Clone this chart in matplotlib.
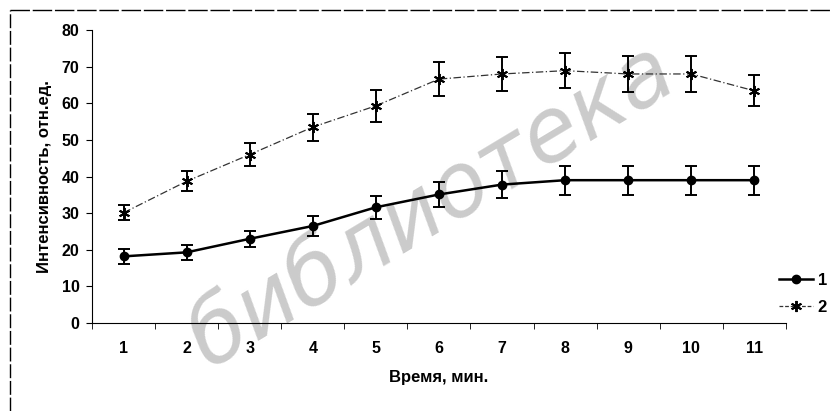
import matplotlib.pyplot as plt
from matplotlib.lines import Line2D
from matplotlib.ticker import MultipleLocator

# данные
minutes = [1, 2, 3, 4, 5, 6, 7, 8, 9, 10, 11]
series1 = [18.2, 19.3, 23.0, 26.5, 31.6, 35.1, 37.8, 39.0, 39.0, 39.0, 39.0]
err1 = [2.0, 2.0, 2.2, 2.7, 3.2, 3.5, 3.7, 4.0, 4.0, 4.0, 4.0]
series2 = [30.1, 38.7, 46.0, 53.5, 59.3, 66.6, 68.0, 68.9, 68.0, 68.0, 63.4]
err2 = [2.0, 2.7, 3.2, 3.7, 4.3, 4.7, 4.7, 4.8, 4.9, 5.0, 4.2]
labels = ['1', '2']
y_ticks = [0, 10, 20, 30, 40, 50, 60, 70, 80]

plt.rcParams['font.family'] = ['Liberation Sans', 'DejaVu Sans']
plt.rcParams['font.weight'] = 'bold'

fig = plt.figure(figsize=(8.31, 4.11), dpi=100)
ax = fig.add_axes([0.1107, 0.214, 0.835, 0.713])
ax.patch.set_alpha(0)

# водяной знак
fig.text(0.52, 0.50, 'библиотека', fontsize=64, color='#cbcbcb', style='italic',
         fontweight='normal', rotation=31, ha='center', va='center', zorder=-1,
         family=['DejaVu Sans'])

ax.errorbar(minutes, series1, yerr=err1, color='black', lw=1.8, marker='o', ms=6,
            ecolor='black', elinewidth=1.4, capsize=4, capthick=1.4, zorder=3)
ax.errorbar(minutes, series2, yerr=err2, color='#333333', lw=0.9, ls=(0, (6, 2, 1, 2)),
            marker=(6, 2, 0), ms=8, mew=1.4, mec='black',
            ecolor='black', elinewidth=1.4, capsize=4, capthick=1.4, zorder=3)

ax.set_xlim(0.5, 11.5)
ax.set_ylim(0, 80)
ax.set_xticks(minutes)
ax.set_yticks(y_ticks)
ax.xaxis.set_minor_locator(MultipleLocator(1, offset=0.5))
ax.tick_params(axis='x', which='major', length=0, pad=13, labelsize=11.5)
ax.tick_params(axis='x', which='minor', length=4, direction='out')
ax.tick_params(axis='y', length=4, direction='out', labelsize=11.5, pad=5)
ax.spines['right'].set_visible(False)
ax.spines['top'].set_visible(False)
ax.spines['left'].set_linewidth(0.8)
ax.spines['bottom'].set_linewidth(0.8)

ax.set_xlabel('Время, мин.', fontsize=12, fontweight='bold', labelpad=10)
ax.set_ylabel('Интенсивность, отн.ед.', fontsize=12, fontweight='bold', labelpad=7)

h1 = Line2D([], [], color='black', lw=1.8, marker='o', ms=6)
h2 = Line2D([], [], color='#333333', lw=0.9, ls=(0, (3, 1.5)), marker=(6, 2, 0), ms=8,
            mew=1.4, mec='black')
fig.legend([h1, h2], labels, loc='center left', bbox_to_anchor=(0.93, 0.285),
           frameon=False, fontsize=12, handlelength=2.0, handletextpad=0.3,
           labelspacing=0.75, borderaxespad=0)

# рамка рисунка
fig.add_artist(Line2D([0.012, 0.012], [0.0, 0.975], transform=fig.transFigure,
                      color='black', lw=1, ls=(0, (10, 2))))
fig.add_artist(Line2D([0.012, 1.0], [0.975, 0.975], transform=fig.transFigure,
                      color='black', lw=1, ls=(0, (14, 2))))

fig.savefig('out.png', dpi=100)
